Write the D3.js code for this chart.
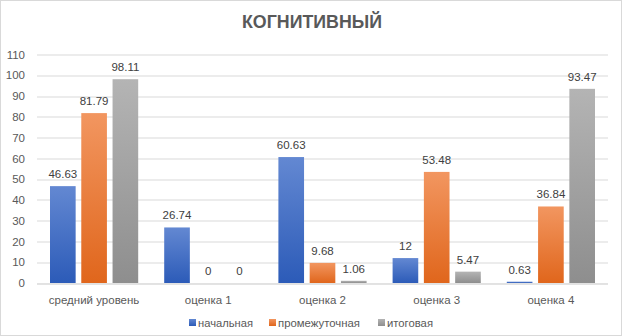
<!DOCTYPE html>
<html>
<head>
<meta charset="utf-8">
<script src="https://cdn.jsdelivr.net/npm/d3@7"></script>
<style>
  body { margin: 0; background: #fff; }
  svg text { font-family: "Liberation Sans", Arial, sans-serif; }
</style>
</head>
<body>
<svg id="chart"></svg>
<script>
// data
const categories = ['средний уровень', 'оценка 1', 'оценка 2', 'оценка 3', 'оценка 4'];
const seriesNames = ['начальная', 'промежуточная', 'итоговая'];
const initial = [46.63, 26.74, 60.63, 12, 0.63];
const middle = [81.79, 0, 9.68, 53.48, 36.84];
const final = [98.11, 0, 1.06, 5.47, 93.47];
const yTicks = [0, 10, 20, 30, 40, 50, 60, 70, 80, 90, 100, 110];

const seriesValues = [initial, middle, final];
const colors = [
    {top: '#6388d2', bottom: '#2c5bb8'},
    {top: '#f29660', bottom: '#e0661c'},
    {top: '#b4b4b4', bottom: '#8e8e8e'}
];

const width = 622, height = 336;
const margin = {top: 54.5, right: 14, bottom: 53, left: 37};
const innerW = width - margin.left - margin.right;
const innerH = height - margin.top - margin.bottom;

const svg = d3.select('#chart')
    .attr('width', width)
    .attr('height', height);

// outer frame
svg.append('rect')
    .attr('x', 0.5).attr('y', 0.5)
    .attr('width', width - 1).attr('height', height - 1)
    .attr('fill', '#fff')
    .attr('stroke', '#d9d9d9');

const defs = svg.append('defs');
colors.forEach((c, i) => {
    const g = defs.append('linearGradient')
        .attr('id', 'grad' + i)
        .attr('x1', 0).attr('y1', 0).attr('x2', 0).attr('y2', 1);
    g.append('stop').attr('offset', '0%').attr('stop-color', c.top);
    g.append('stop').attr('offset', '100%').attr('stop-color', c.bottom);
});

const chart = svg.append('g')
    .attr('transform', `translate(${margin.left}, ${margin.top})`);

const xscale = d3.scaleBand()
    .domain(categories)
    .range([0, innerW]);

const xinner = d3.scaleBand()
    .domain(d3.range(seriesNames.length))
    .range([13, xscale.bandwidth() - 13])
    .paddingInner(0.18);

const yscale = d3.scaleLinear()
    .domain([0, 110])
    .range([innerH, 0]);

// gridlines
chart.append('g')
    .selectAll('line')
    .data(yTicks)
    .join('line')
    .attr('x1', 0).attr('x2', innerW)
    .attr('y1', d => Math.round(yscale(d)) + 0.5)
    .attr('y2', d => Math.round(yscale(d)) + 0.5)
    .attr('stroke', '#d9d9d9')
    .attr('stroke-width', 1);

// y axis labels
const yaxis = d3.axisLeft(yscale)
    .tickValues(yTicks)
    .tickSize(0)
    .tickPadding(12);
const yaxis_group = chart.append('g').call(yaxis);
yaxis_group.select('.domain').remove();
yaxis_group.selectAll('text')
    .attr('fill', '#595959')
    .style('font-size', '11.5px')
    .style('font-family', '"Liberation Sans", Arial, sans-serif');

// bars
const groups = chart.selectAll('.group')
    .data(categories)
    .join('g')
    .attr('class', 'group')
    .attr('transform', d => `translate(${xscale(d)}, 0)`);

groups.each(function(cat, ci) {
    const g = d3.select(this);
    const vals = seriesValues.map(s => s[ci]);
    g.selectAll('rect')
        .data(vals)
        .join('rect')
        .attr('x', (d, i) => xinner(i))
        .attr('width', xinner.bandwidth())
        .attr('y', d => yscale(d))
        .attr('height', d => innerH - yscale(d))
        .attr('fill', (d, i) => `url(#grad${i})`);
    g.selectAll('text')
        .data(vals)
        .join('text')
        .attr('x', (d, i) => xinner(i) + xinner.bandwidth() / 2)
        .attr('y', d => yscale(d) - 8)
        .attr('text-anchor', 'middle')
        .attr('fill', '#404040')
        .style('font-size', '11.5px')
        .text(d => d);
});

// x axis line
chart.append('line')
    .attr('x1', 0).attr('x2', innerW)
    .attr('y1', Math.round(innerH) + 0.5).attr('y2', Math.round(innerH) + 0.5)
    .attr('stroke', '#d9d9d9');

// x labels
const xaxis = d3.axisBottom(xscale).tickSize(0).tickPadding(13);
const xaxis_group = chart.append('g')
    .attr('transform', `translate(0, ${innerH})`)
    .call(xaxis);
xaxis_group.select('.domain').remove();
xaxis_group.selectAll('text')
    .attr('fill', '#595959')
    .style('font-size', '11.5px')
    .style('font-family', '"Liberation Sans", Arial, sans-serif');

// title
svg.append('text')
    .attr('x', 312)
    .attr('y', 28)
    .attr('text-anchor', 'middle')
    .attr('fill', '#595959')
    .style('font-size', '18px')
    .style('font-weight', 'bold')
    .attr('textLength', 140)
    .attr('lengthAdjust', 'spacingAndGlyphs')
    .text('КОГНИТИВНЫЙ');

// legend
const legendX = [189, 269, 378];
const legendW = [55, 82, 46];
const legend = svg.append('g');
seriesNames.forEach((name, i) => {
    legend.append('rect')
        .attr('x', legendX[i]).attr('y', 319)
        .attr('width', 7).attr('height', 7)
        .attr('fill', `url(#grad${i})`);
    legend.append('text')
        .attr('x', legendX[i] + 9)
        .attr('y', 326.5)
        .attr('fill', '#595959')
        .style('font-size', '11px')
        .attr('textLength', legendW[i])
        .attr('lengthAdjust', 'spacingAndGlyphs')
        .text(name);
});
</script>
</body>
</html>
